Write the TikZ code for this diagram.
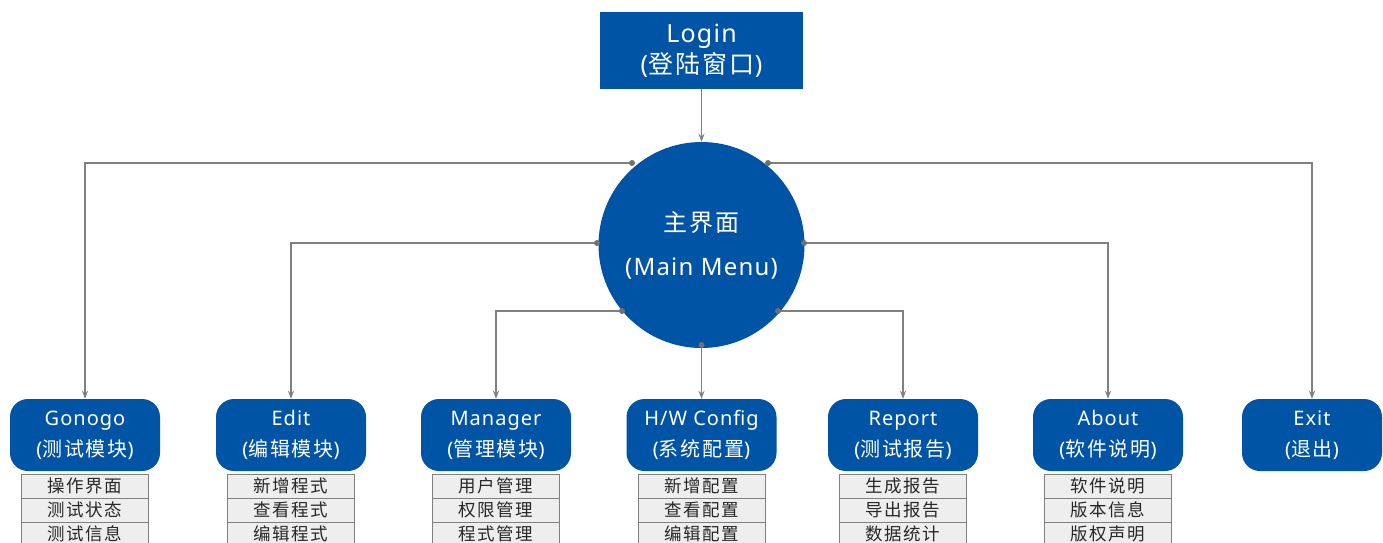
\documentclass[tikz,border=0pt]{standalone}
\usepackage{fontspec}
\setmainfont{Noto Sans}[LetterSpace=5]
\newfontfamily\cjk{Noto Sans CJK SC}[LetterSpace=9]
\usetikzlibrary{arrows.meta}
\definecolor{mblue}{RGB}{0,84,166}
\definecolor{lgray}{RGB}{128,128,128}
\definecolor{dotgray}{RGB}{112,112,112}
\definecolor{subfill}{RGB}{238,238,238}
\definecolor{subtext}{RGB}{40,40,40}
\begin{document}
\begin{tikzpicture}[x=1pt,y=-1pt,
 mod/.style={fill=mblue, text=white, rounded corners=18pt, minimum width=150pt, minimum height=72pt, align=center, font=\fontsize{20}{31}\selectfont, inner sep=0pt},
 sub/.style={draw=lgray, fill=subfill, text=subtext, minimum width=127pt, minimum height=24pt, inner sep=0pt, font=\cjk\fontsize{17.5}{17.5}\selectfont, line width=0.8pt},
 arr/.style={draw=lgray, line width=1.2pt, -{Stealth[length=8pt,width=6pt]}},
 jdot/.style={circle, fill=dotgray, inner sep=0pt, minimum size=6pt}
]
\useasboundingbox[fill=white] (0,0) rectangle (1383,542);

\node[fill=mblue, text=white, minimum width=203pt, minimum height=77pt, inner sep=0pt, align=center, font=\fontsize{25}{31}\selectfont] (login) at (701.5,50.5) {Login\\({\cjk 登陆窗口})};

\node[circle, fill=mblue, text=white, minimum size=206pt, inner sep=0pt, align=center, font=\fontsize{24}{44}\selectfont] (main) at (701.5,245) {{\cjk 主界面}\\(Main Menu)};

\node[mod] (gonogo) at (85,435) {Gonogo\\({\cjk 测试模块})};
\node[mod] (edit) at (291,435) {Edit\\({\cjk 编辑模块})};
\node[mod] (manager) at (496,435) {Manager\\({\cjk 管理模块})};
\node[mod] (hw) at (701.5,435) {H/W Config\\({\cjk 系统配置})};
\node[mod] (report) at (903,435) {Report\\({\cjk 测试报告})};
\node[mod] (about) at (1108,435) {About\\({\cjk 软件说明})};
\node[mod, minimum width=140pt] (exit) at (1312,435) {Exit\\({\cjk 退出})};

\foreach \c/\n/\a/\b/\d in {85/g/操作界面/测试状态/测试信息, 291/e/新增程式/查看程式/编辑程式, 496/m/用户管理/权限管理/程式管理, 701.5/h/新增配置/查看配置/编辑配置, 903/r/生成报告/导出报告/数据统计, 1108/a/软件说明/版本信息/版权声明}{
  \node[sub] (\n1) at (\c,486) {\a};
  \node[sub] (\n2) at (\c,510) {\b};
  \node[sub] (\n3) at (\c,534) {\d};
}

\coordinate (d1) at (632,163);
\coordinate (d2) at (768,163);
\coordinate (d3) at (597,243);
\coordinate (d4) at (804,243);
\coordinate (d5) at (622,311);
\coordinate (d6) at (778,311);
\coordinate (d7) at (701.5,345);

\draw[arr] (login.south) -- (main.north);
\draw[arr] (d1) -| (gonogo.north);
\draw[arr] (d2) -| (exit.north);
\draw[arr] (d3) -| (edit.north);
\draw[arr] (d4) -| (about.north);
\draw[arr] (d5) -| (manager.north);
\draw[arr] (d6) -| (report.north);
\draw[arr] (d7) -- (hw.north);

\foreach \p in {d1,d2,d3,d4,d5,d6,d7} \node[jdot] at (\p) {};
\end{tikzpicture}
\end{document}
